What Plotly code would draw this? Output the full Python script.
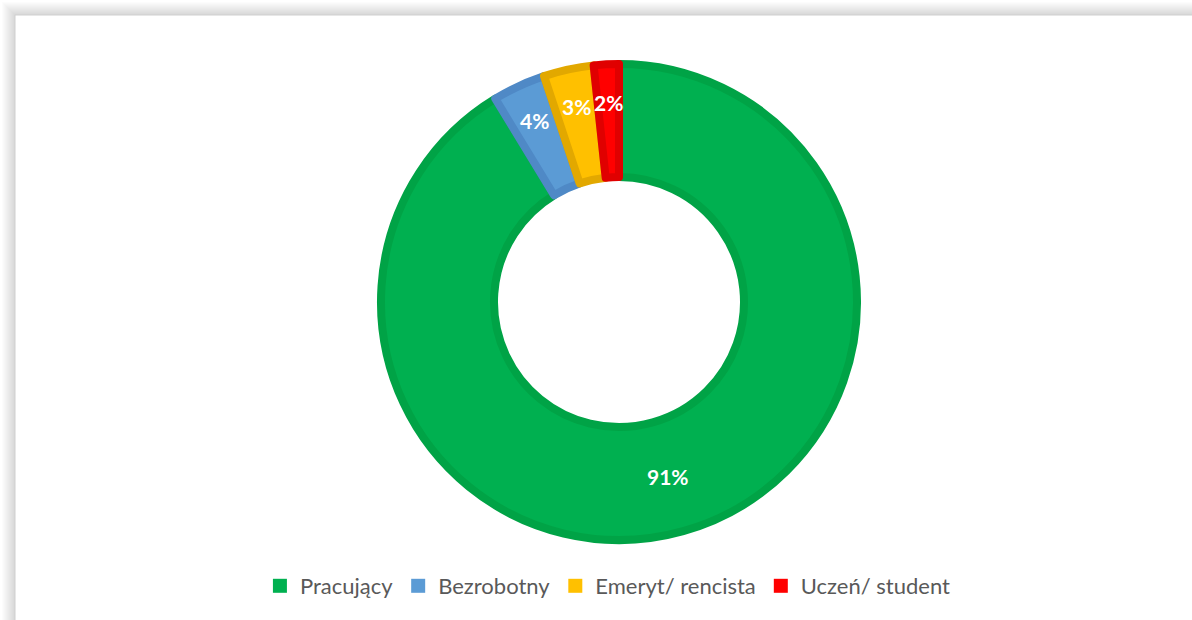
import math
import plotly.graph_objects as go

# ---- data ----
categories = ["Pracujący", "Bezrobotny", "Emeryt/ rencista", "Uczeń/ student"]
values = [91.3, 3.6, 3.4, 1.7]
fill_colors = ["#00B050", "#5B9BD5", "#FFC000", "#FF0000"]
edge_colors = ["#00A346", "#4F89C6", "#E2A800", "#E00000"]

W, H = 1192, 620
CX, CY = 619, 302          # pie centre in pixels
R_OUT = 242                # visible outer radius
R_IN = 121                 # visible inner radius
LW = 8                     # slice outline width

r_path = R_OUT - LW / 2
hole = (R_IN + LW / 2) / r_path

fig = go.Figure()

fig.add_trace(go.Pie(
    labels=categories,
    values=values,
    sort=False,
    direction="clockwise",
    rotation=0,
    hole=hole,
    textinfo="none",
    showlegend=False,
    hoverinfo="label+percent",
    marker=dict(colors=fill_colors, line=dict(color=edge_colors, width=LW)),
    domain=dict(x=[(CX - r_path) / W, (CX + r_path) / W],
                y=[1 - (CY + r_path) / H, 1 - (CY - r_path) / H]),
))

# legend entries
for name, col in zip(categories, fill_colors):
    fig.add_trace(go.Scatter(x=[None], y=[None], mode="markers", name=name,
                             marker=dict(symbol="square", size=14, color=col)))

# percentage labels computed from the data
total = sum(values)
cum = 0.0
for v in values:
    f = v / total
    a = 2 * math.pi * (cum + f / 2)
    cum += f
    R = (R_IN + R_OUT) / 2 if f > 0.1 else 200
    px = CX + R * math.sin(a)
    py = CY - R * math.cos(a)
    fig.add_annotation(x=px / W, y=1 - py / H, xref="paper", yref="paper",
                       xanchor="center", yanchor="middle",
                       text=f"<b>{round(f * 100):.0f}%</b>", showarrow=False,
                       font=dict(family="Lato", size=21, color="white"))

# frame with soft shadow
shapes = []
for i in range(13):
    off = 2 + i
    g = int(252 - i * 3)
    shapes.append(dict(type="rect", xref="paper", yref="paper", layer="below",
                       x0=off / W, x1=1.2, y0=-0.2, y1=1 - off / H,
                       line=dict(width=0), fillcolor=f"rgb({g},{g},{g})"))
shapes.append(dict(type="rect", xref="paper", yref="paper", layer="below",
                   x0=15 / W, x1=1.2, y0=-0.2, y1=1 - 15 / H,
                   line=dict(width=1, color="#D0D0D0"), fillcolor="white"))

fig.update_layout(
    width=W, height=H,
    margin=dict(l=0, r=0, t=0, b=0),
    paper_bgcolor="white", plot_bgcolor="rgba(0,0,0,0)",
    xaxis=dict(visible=False), yaxis=dict(visible=False),
    shapes=shapes,
    showlegend=True,
    legend=dict(orientation="h", x=0.51, xanchor="center", y=1 - 586 / H,
                yanchor="middle", font=dict(family="Lato", size=22, color="#595959"),
                bgcolor="rgba(0,0,0,0)", itemclick=False),
    font=dict(family="Lato"),
)

fig.write_html("out.html", config={"displayModeBar": False},
               post_script="document.body.style.margin='0';document.body.style.overflow='hidden';")
